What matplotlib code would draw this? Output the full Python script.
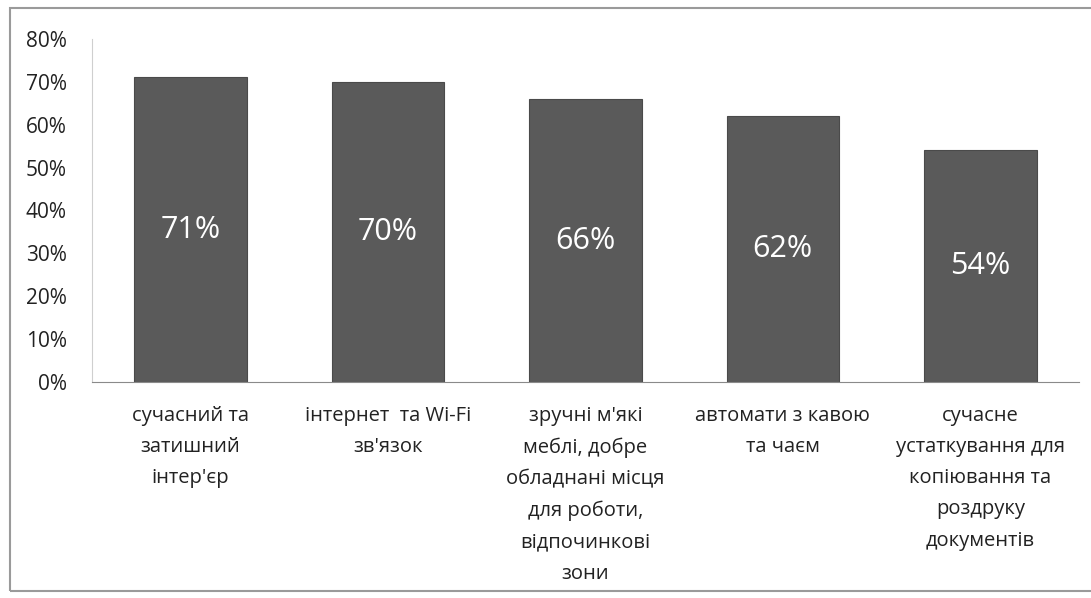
import matplotlib
matplotlib.use("Agg")
import matplotlib.pyplot as plt
from matplotlib.patches import Rectangle

plt.rcParams['font.family'] = ['Open Sans', 'DejaVu Sans']

categories = [
    "сучасний та\nзатишний\nінтер'єр",
    "інтернет  та Wi-Fi\nзв'язок",
    "зручні м'які\nмеблі, добре\nобладнані місця\nдля роботи,\nвідпочинкові\nзони",
    "автомати з кавою\nта чаєм",
    "сучасне\nустаткування для\nкопіювання та\nроздруку\nдокументів",
]
values = [0.71, 0.70, 0.66, 0.62, 0.54]
yticks = [0, 0.1, 0.2, 0.3, 0.4, 0.5, 0.6, 0.7, 0.8]
ytick_labels = ["0%", "10%", "20%", "30%", "40%", "50%", "60%", "70%", "80%"]

fig = plt.figure(figsize=(10.91, 5.98), dpi=100)
fig.patches.append(Rectangle((0.009, 0.012), 1.2, 0.974, transform=fig.transFigure,
                             fill=False, edgecolor='#9a9a9a', linewidth=1.5))

ax = fig.add_axes([0.084, 0.361, 0.905, 0.574])
x = range(len(values))
bars = ax.bar(x, values, width=0.57, color='#5a5a5a', edgecolor='#4a4a4a', linewidth=0.8)

for xi, v in zip(x, values):
    ax.text(xi, v / 2, f"{round(v * 100)}%", ha='center', va='center',
            color='white', fontsize=22)

ax.set_ylim(0, 0.8)
ax.set_xlim(-0.5, len(values) - 0.5)
ax.set_yticks(yticks)
ax.set_yticklabels(ytick_labels, fontsize=15, color='#222222')
ax.set_xticks(list(x))
ax.set_xticklabels(categories, fontsize=14.5, color='#222222', linespacing=1.75, va='top')
ax.tick_params(axis='both', length=0)
ax.tick_params(axis='y', pad=18)
ax.tick_params(axis='x', pad=17)

for s in ['top', 'right']:
    ax.spines[s].set_visible(False)
ax.spines['left'].set_color('#cfcfcf')
ax.spines['bottom'].set_color('#8a8a8a')

fig.savefig("out.png", dpi=100)
